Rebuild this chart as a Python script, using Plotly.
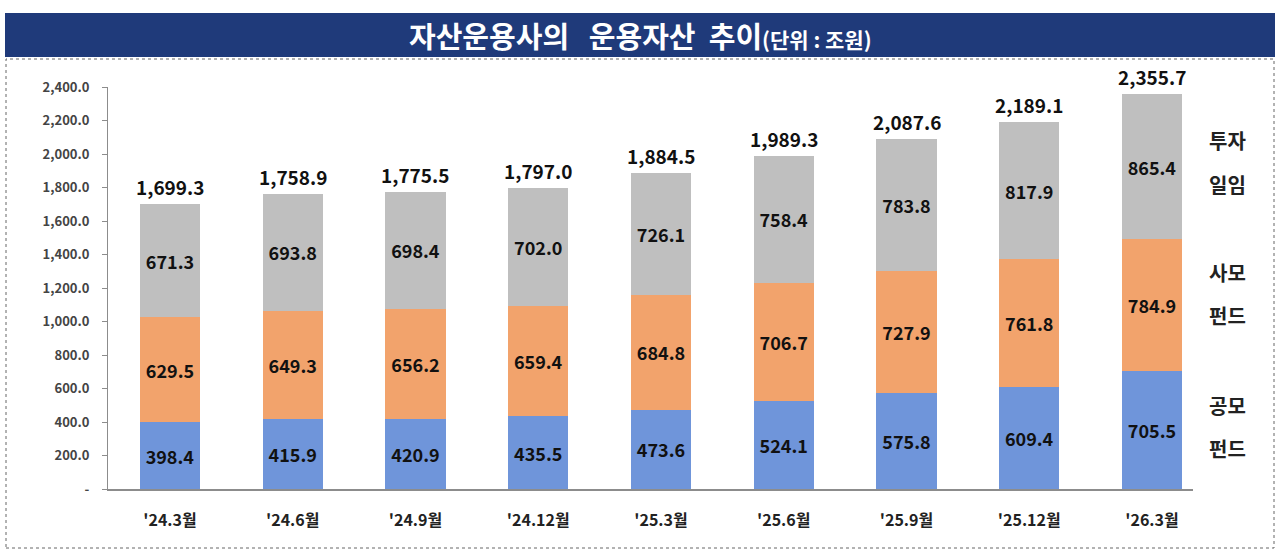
import plotly.graph_objects as go

categories = ["'24.3월", "'24.6월", "'24.9월", "'24.12월", "'25.3월", "'25.6월", "'25.9월", "'25.12월", "'26.3월"]
public_fund = [398.4, 415.9, 420.9, 435.5, 473.6, 524.1, 575.8, 609.4, 705.5]
private_fund = [629.5, 649.3, 656.2, 659.4, 684.8, 706.7, 727.9, 761.8, 784.9]
discretionary = [671.3, 693.8, 698.4, 702.0, 726.1, 758.4, 783.8, 817.9, 865.4]
totals = [1699.3, 1758.9, 1775.5, 1797.0, 1884.5, 1989.3, 2087.6, 2189.1, 2355.7]
y_ticks = [0, 200, 400, 600, 800, 1000, 1200, 1400, 1600, 1800, 2000, 2200, 2400]
y_tick_labels = ["-"] + [f"{v:,.1f}" for v in y_ticks[1:]]
series_names = ["공모펀드", "사모펀드", "투자일임"]
side_labels = [("공모", "펀드"), ("사모", "펀드"), ("투자", "일임")]
title_main = "자산운용사의&nbsp;&nbsp;&nbsp;운용자산&nbsp;&nbsp;추이"
title_unit = "(단위 : 조원)"

W, H = 1280, 556
L, R, T, B = 108, 1193, 87, 489

def px(x):
    return (x - L) / (R - L)

def py(y):
    return (B - y) / (B - T)

FONT = "Malgun Gothic, Noto Sans CJK KR, sans-serif"
colors = ["#6F95DA", "#F2A36C", "#BFBFBF"]
xs = list(range(len(categories)))

fig = go.Figure()
for name, vals, col in zip(series_names, [public_fund, private_fund, discretionary], colors):
    fig.add_trace(go.Bar(
        x=xs, y=vals, name=name, marker=dict(color=col, line=dict(width=0)),
        text=[f"{v:.1f}" for v in vals], textposition="inside",
        insidetextanchor="middle", textangle=0,
        textfont=dict(family=FONT, size=18, color="#111111", weight="bold"),
        cliponaxis=False,
    ))

for i, t in enumerate(totals):
    fig.add_annotation(x=i, y=t, text=f"<b>{t:,.1f}</b>", showarrow=False,
                       yanchor="bottom", yshift=2,
                       font=dict(family=FONT, size=19, color="#111111"))

side_y = [(405, 448), (272, 315), (140, 184)]
for (l1, l2), (y1, y2) in zip(side_labels, side_y):
    for lab, yy in ((l1, y1), (l2, y2)):
        fig.add_annotation(xref="paper", yref="paper", x=px(1227), y=py(yy), text=f"<b>{lab}</b>",
                           showarrow=False, xanchor="center", yanchor="middle",
                           font=dict(family=FONT, size=20, color="#222222"))

# title bar
fig.add_shape(type="rect", xref="paper", yref="paper", x0=px(5), x1=px(1275), y0=py(57), y1=py(13),
              fillcolor="#1F3A7A", line=dict(width=0), layer="below")
fig.add_annotation(xref="paper", yref="paper", x=px(640), y=py(35),
                   text=f"<b>{title_main}</b><b><span style='font-size:21px'>{title_unit}</span></b>",
                   showarrow=False, xanchor="center", yanchor="middle",
                   font=dict(family=FONT, size=29, color="white"))
# dotted frame
fig.add_shape(type="rect", xref="paper", yref="paper", x0=px(6), x1=px(1274), y0=py(548), y1=py(59),
              line=dict(color="#666666", width=1, dash="dot"), fillcolor="rgba(0,0,0,0)", layer="below")

fig.update_layout(
    width=W, height=H, barmode="stack", bargap=0.51,
    margin=dict(l=L, r=W - R, t=T, b=H - B),
    paper_bgcolor="white", plot_bgcolor="white", showlegend=False,
    font=dict(family=FONT),
    uniformtext=dict(minsize=10, mode="show"),
)
fig.update_xaxes(
    range=[-0.505, 8.334], tickmode="array", tickvals=xs,
    ticktext=[f"<b>{c}</b>" for c in categories],
    showline=True, linecolor="#8C8C8C", linewidth=2, ticks="", showgrid=False,
    tickfont=dict(family=FONT, size=16, color="#222222"), ticklabelstandoff=16,
)
fig.update_yaxes(
    range=[0, 2400], tickmode="array", tickvals=y_ticks,
    ticktext=[f"<b>{t}</b>" for t in y_tick_labels],
    showline=True, linecolor="#8C8C8C", linewidth=1, ticks="outside", ticklen=5,
    tickcolor="#8C8C8C", showgrid=False, zeroline=False,
    tickfont=dict(family=FONT, size=13, color="#444444"), ticklabelstandoff=10,
)

fig.write_html("out.html")
